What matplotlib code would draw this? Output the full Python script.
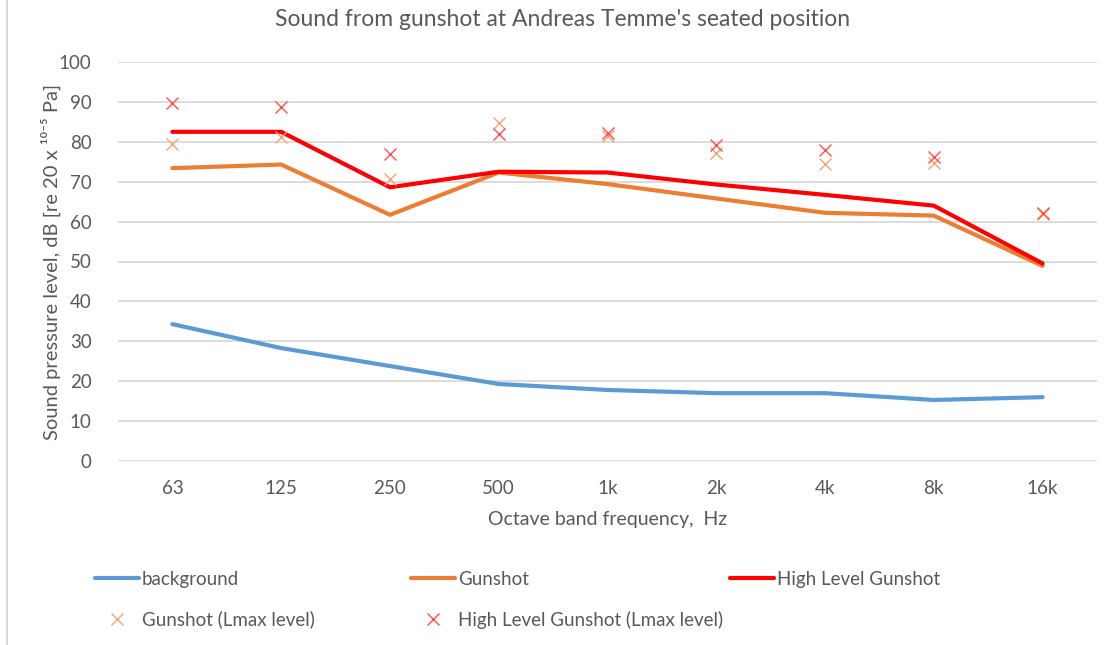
import numpy as np
import matplotlib
matplotlib.use("Agg")
import matplotlib.pyplot as plt
from matplotlib.lines import Line2D

plt.rcParams["font.family"] = ["Lato", "DejaVu Sans"]

# octave bands and levels
bands = ["63", "125", "250", "500", "1k", "2k", "4k", "8k", "16k"]
background = [34.3, 28.3, 23.8, 19.3, 17.8, 17.0, 17.0, 15.3, 16.0]
gunshot = [73.4, 74.3, 61.7, 72.3, 69.4, 65.8, 62.2, 61.5, 48.9]
high_gunshot = [82.5, 82.5, 68.6, 72.5, 72.3, 69.3, 66.7, 64.0, 49.5]
gunshot_lmax = [79.4, 81.1, 70.7, 84.8, 81.5, 77.3, 74.4, 74.6, 62.0]
high_gunshot_lmax = [89.6, 88.8, 76.9, 82.0, 82.1, 79.2, 77.9, 76.1, 62.1]

TXT = "#595959"
GRID = "#D9D9D9"
W, H = 1115, 645

fig = plt.figure(figsize=(W / 100, H / 100), dpi=100)
ax = fig.add_axes([118 / W, 1 - 461 / H, 979 / W, 399 / H])

x = np.arange(len(bands))
l_bg, = ax.plot(x, background, color="#5B9BD5", lw=3, solid_capstyle="round", label="background")
l_gs, = ax.plot(x, gunshot, color="#ED7D31", lw=3, solid_capstyle="round", label="Gunshot")
l_hi, = ax.plot(x, high_gunshot, color="#FF0000", lw=3, solid_capstyle="round", label="High Level Gunshot")
m_gs, = ax.plot(x, gunshot_lmax, ls="none", marker="x", ms=9, mew=1.0,
                color="#F4A46F", label="Gunshot (Lmax level)")
m_hi, = ax.plot(x, high_gunshot_lmax, ls="none", marker="x", ms=9, mew=1.0,
                color="#FF4F4F", label="High Level Gunshot (Lmax level)")

ax.set_xlim(-0.5, len(bands) - 0.5)
ax.set_ylim(0, 100)
ax.set_yticks(np.arange(0, 101, 10))
ax.set_xticks(x)
ax.set_xticklabels(bands)
ax.grid(axis="y", color=GRID, lw=1.3)
ax.set_axisbelow(True)
for s in ax.spines.values():
    s.set_visible(False)
ax.tick_params(length=0, colors=TXT, labelsize=13.5)
ax.tick_params(axis="y", pad=19)
ax.tick_params(axis="x", pad=14)

ax.set_xlabel("Octave band frequency,  Hz", color=TXT, fontsize=14)
ax.xaxis.set_label_coords(0.5, (461 - 520) / 399)
ax.set_ylabel("Sound pressure level, dB [re 20 x ¹⁰⁻⁵ Pa]", color=TXT, fontsize=14.5)
ax.yaxis.set_label_coords((51 - 118) / 979, 0.5)
ax.yaxis.label.set_va("center")
ax.xaxis.label.set_va("center")
fig.suptitle("Sound from gunshot at Andreas Temme's seated position",
             color=TXT, fontsize=16.5, x=563 / W, y=1 - 20 / H, va="center")

# legend laid out as three columns, each its own legend
columns = [([l_bg, m_gs], 95), ([l_gs, m_hi], 411), ([l_hi], 730)]
for hs, x0 in columns:
    fig.legend(hs, [h.get_label() for h in hs], frameon=False,
               loc="upper left", bbox_to_anchor=(x0 / W, 1 - 571 / H),
               borderpad=0, borderaxespad=0, fontsize=13.5, labelcolor=TXT,
               handlelength=2.35, handletextpad=0.15, labelspacing=1.2)

# chart border on the left
fig.add_artist(Line2D([7 / W, 7 / W], [0, 1], color=GRID, lw=1.5))

fig.savefig("out.png", dpi=100)
